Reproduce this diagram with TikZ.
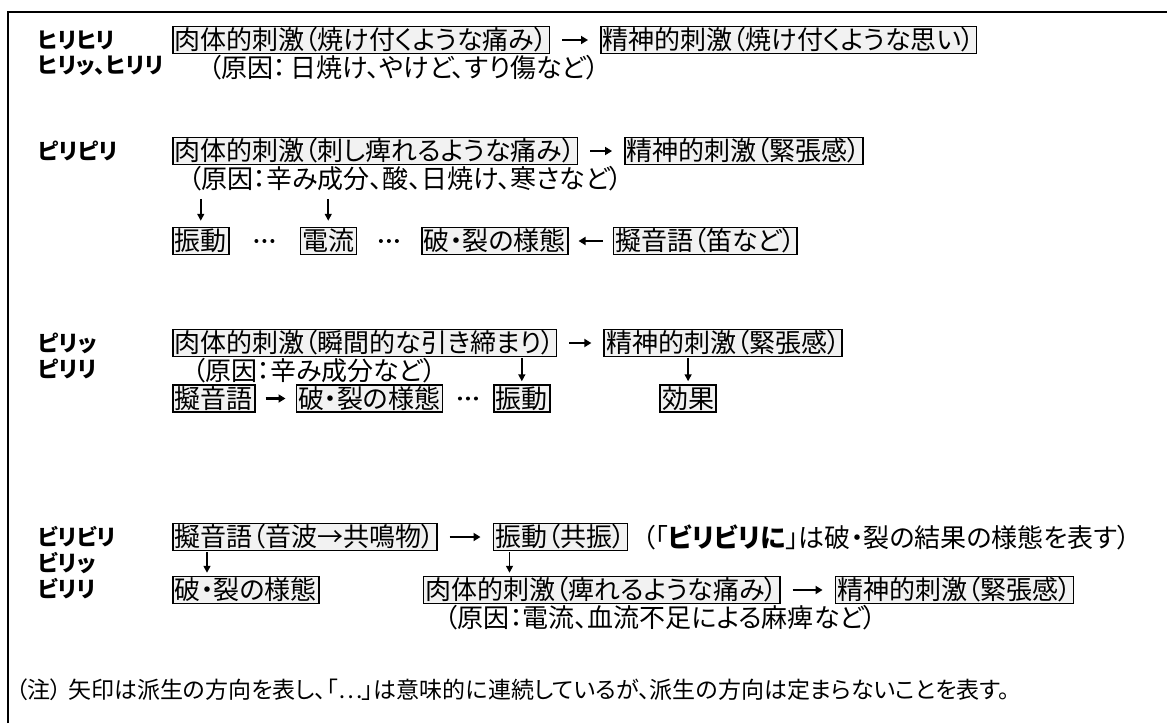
\documentclass[tikz,border=0pt]{standalone}
\usepackage{fontspec}
\newfontfamily\jp{Noto Sans CJK JP}[RawFeature=+palt]
\usetikzlibrary{positioning,arrows.meta,calc}
\definecolor{boxgray}{HTML}{F2F2F2}
\begin{document}
\begin{tikzpicture}[x=1pt,y=-1pt,
  box/.style={draw=black, line width=1.5pt, fill=boxgray, inner xsep=2pt, inner ysep=0.5pt,
    text height=22.5pt, text depth=3.5pt, font=\jp\fontsize{26}{30}\selectfont},
  lab/.style={anchor=west, inner sep=0pt, font=\jp\bfseries\fontsize{22}{26}\selectfont},
  plain/.style={anchor=west, inner sep=0pt, font=\jp\fontsize{26}{30}\selectfont},
  harr/.style={line width=2.2pt, -{Triangle[length=7pt,width=8pt]}, shorten <=12pt, shorten >=12pt},
  varr/.style={line width=1.6pt, -{Triangle[length=7pt,width=7pt]}},
  dotsty/.style={line width=4pt, line cap=round, dash pattern=on 0pt off 8pt}
]
\useasboundingbox (0,0) rectangle (1167,723);
\fill[white] (0,0) rectangle (1167,723);
% frame
\draw[line width=2pt] (8,723) -- (8,12) -- (1167,12);

% ---------- Row 1
\node[lab] (l1a) at (38,40) {ヒリヒリ};
\node[lab] (l1b) at (38,66) {ヒリッ、ヒリリ};
\node[box, anchor=west] (b1a) at (172,40) {肉体的刺激（焼け付くような痛み）};
\node[box, right=50pt of b1a] (b1b) {精神的刺激（焼け付くような思い）};
\draw[harr] (b1a) -- (b1b);
\node[plain] (c1) at (208,68) {（原因：\,日焼け、やけど、すり傷など）};

% ---------- Row 2
\node[lab] (l2) at (38,151) {ピリピリ};
\node[box, anchor=west] (b2a) at (172,151) {肉体的刺激（刺し痺れるような痛み）};
\node[box, right=46pt of b2a] (b2b) {精神的刺激（緊張感）};
\draw[harr] (b2a) -- (b2b);
\node[plain] (c2) at (188,179) {（原因：辛み成分、酸、日焼け、寒さなど）};
\node[box, anchor=west] (s2a) at (172,241) {振動};
\node[box, right=70pt of s2a] (s2b) {電流};
\node[box, right=64pt of s2b] (s2c) {破・裂の様態};
\node[box, right=44pt of s2c] (s2d) {擬音語（笛など）};
\path (s2a.east) -- (s2b.west) coordinate[pos=0.5] (m2a);
\path (s2b.east) -- (s2c.west) coordinate[pos=0.5] (m2b);
\draw[dotsty] ($(m2a)+(-8.1,0)$) -- ($(m2a)+(8.1,0)$);
\draw[dotsty] ($(m2b)+(-8.1,0)$) -- ($(m2b)+(8.1,0)$);
\draw[harr, shorten <=10pt, shorten >=10pt] (s2d) -- (s2c);
\coordinate (d2a) at ($(s2a.north)+(0,-28)$);
\coordinate (d2b) at ($(s2b.north)+(0,-28)$);
\draw[varr, shorten >=6pt] (d2a) -- (s2a.north);
\draw[varr, shorten >=6pt] (d2b) -- (s2b.north);

% ---------- Row 3
\node[lab] (l3a) at (38,343) {ピリッ};
\node[lab] (l3b) at (38,369) {ピリリ};
\node[box, anchor=west] (b3a) at (172,343) {肉体的刺激（瞬間的な引き締まり）};
\node[box, right=46pt of b3a] (b3b) {精神的刺激（緊張感）};
\draw[harr] (b3a) -- (b3b);
\node[plain] (c3) at (192,370.5) {（原因：辛み成分など）};
\node[box, anchor=west] (s3a) at (172,398.5) {擬音語};
\node[box, right=40pt of s3a] (s3b) {破・裂の様態};
\node[box, right=50pt of s3b] (s3c) {振動};
\node[box, anchor=west] (s3d) at ($(b3b.west)+(56,55.5)$) {効果};
\draw[harr, shorten <=10pt, shorten >=10pt] (s3a) -- (s3b);
\path (s3b.east) -- (s3c.west) coordinate[pos=0.5] (m3);
\draw[dotsty] ($(m3)+(-8.1,0)$) -- ($(m3)+(8.1,0)$);
\draw[varr, shorten <=1pt, shorten >=3pt] (s3c.north |- b3a.south) -- (s3c.north);
\draw[varr, shorten <=1pt, shorten >=3pt] (s3d.north |- b3b.south) -- (s3d.north);

% ---------- Row 4
\node[lab] (l4a) at (38,537) {ビリビリ};
\node[lab] (l4b) at (38,563) {ビリッ};
\node[lab] (l4c) at (38,589) {ビリリ};
\node[box, anchor=west] (b4a) at (172,537) {擬音語（音波→共鳴物）};
\node[box, right=55pt of b4a] (b4b) {振動（共振）};
\draw[harr] (b4a) -- (b4b);
\node[plain, right=14pt of b4b] (n4) {（「{\bfseries ビリビリに}」は破・裂の結果の様態を表す）};
\node[box, anchor=west] (s4a) at (172,590) {破・裂の様態};
\node[box, anchor=west] (b4c) at ($(b4b.west)+(-70,53)$) {肉体的刺激（痺れるような痛み）};
\node[box, right=54pt of b4c] (b4d) {精神的刺激（緊張感）};
\draw[harr] (b4c) -- (b4d);
\node[plain] (c4) at ($(b4c.west)+(22,28)$) {（原因：電流、血流不足による麻痺など）};
\coordinate (a4a) at ($(b4a.south west)+(35,0)$);
\coordinate (a4b) at ($(b4b.south west)+(17,0)$);
\draw[varr, shorten <=1pt, shorten >=3pt] (a4a) -- (a4a |- s4a.north);
\draw[varr, shorten <=1pt, shorten >=3pt] (a4b) -- (a4b |- b4c.north);

% ---------- Note
\node[plain, font=\jp\fontsize{23}{27}\selectfont] (note) at (16,690) {（注）\hspace{6pt}矢印は派生の方向を表し、「…」は意味的に連続しているが、派生の方向は定まらないことを表す。};
\end{tikzpicture}
\end{document}
